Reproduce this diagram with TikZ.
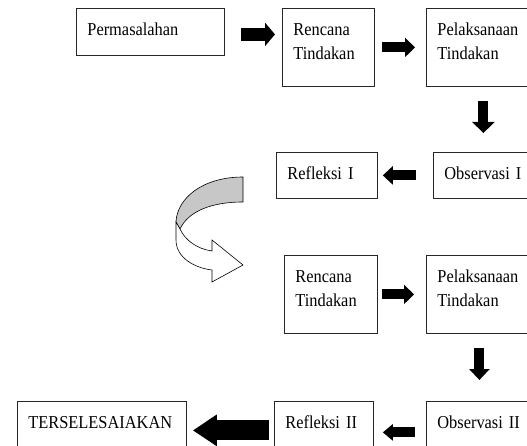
\documentclass[tikz,border=0pt]{standalone}
\usepackage{fontspec}
\setmainfont{Liberation Serif}[FakeStretch=0.9]
\usetikzlibrary{arrows.meta}

\tikzset{
  box/.style 2 args={draw=black!85, line width=.8pt, anchor=north west,
    align=left, inner xsep=11pt, inner ysep=0pt,
    text width=#1, text height=27pt, text depth=#2,
    font=\fontsize{18.2}{24}\selectfont},
  blk/.style n args={3}{line width=#1, -{Triangle[width=#2, length=#3]}},
}

\begin{document}
\begin{tikzpicture}[x=1pt, y=-1pt]

  % Frame
  \clip (0,0) rectangle (527,446);

  %% First cycle

  % Top row
  \node[box={126pt}{20pt}] (perm) at (76,8) {Permasalahan};
  \node[box={70pt}{51pt}] (ren1) at (282,8) {Rencana\\Tindakan};
  \node[box={92pt}{51pt}] (pel1) at (426,8) {Pelaksanaan\\Tindakan};

  % Second row
  \node[box={80pt}{19pt}] (obs1) at (433,152) {Observasi I};
  \node[box={79pt}{19pt}] (ref1) at (276,152) {Refleksi I};

  % Arrows of the first cycle
  \draw[blk={13pt}{23pt}{10pt}, shorten <=16pt, shorten >=7pt]
    ([yshift=-2.5pt]perm.east) -- ([yshift=-2.5pt]perm.east -| ren1.west);
  \draw[blk={10pt}{19pt}{10pt}, shorten <=7pt, shorten >=11pt]
    (ren1.east) -- (ren1.east -| pel1.west);
  \draw[blk={10pt}{22pt}{11pt}, shorten <=14pt, shorten >=19pt]
    (pel1.south) -- (pel1.south |- obs1.north);
  \draw[blk={10pt}{18pt}{10pt}, shorten <=17pt, shorten >=5pt]
    (obs1.west) -- (obs1.west -| ref1.east);

  %% Turn to the second cycle

  % Back of the ribbon
  \draw[line width=.6pt, fill=black!22]
    (243,177) .. controls (203,177) and (177,198) .. (176,222)
    -- (180,229) .. controls (188,212) and (210,202) .. (243,202) -- cycle;

  % Front of the ribbon with its head
  \draw[line width=.6pt, fill=white]
    (176,222) -- (176,240) .. controls (176,258) and (195,268) .. (212,270)
    -- (212,282) -- (243,265) -- (212,240) -- (212,251)
    .. controls (197,249) and (185,240) .. (180,229) -- cycle;

  %% Second cycle

  % Third row
  \node[box={71pt}{51pt}] (ren2) at (284,255) {Rencana\\Tindakan};
  \node[box={92pt}{51pt}] (pel2) at (426,255) {Pelaksanaan\\Tindakan};

  % Bottom row
  \node[box={88pt}{20pt}] (obs2) at (426,401) {Observasi II};
  \node[box={77pt}{20pt}] (ref2) at (274,401) {Refleksi II};
  \node[box={147pt}{20pt}] (tersel) at (17,401) {TERSELESAIAKAN};

  % Arrows of the second cycle
  \draw[blk={10pt}{19pt}{10pt}, shorten <=4pt, shorten >=12pt]
    (ren2.east) -- (ren2.east -| pel2.west);
  \draw[blk={10pt}{20pt}{11pt}, shorten <=14pt, shorten >=21pt]
    ([xshift=-4pt]pel2.south) -- ([xshift=-4pt]pel2.south |- obs2.north);
  \draw[blk={10pt}{16pt}{10pt}, shorten <=11pt, shorten >=9pt]
    ([yshift=-7.5pt]obs2.west) -- ([yshift=-7.5pt]obs2.west -| ref2.east);
  \draw[blk={20pt}{30pt}{24pt}, shorten <=5pt, shorten >=6pt]
    ([yshift=-5.5pt]ref2.west) -- ([yshift=-5.5pt]ref2.west -| tersel.east);

\end{tikzpicture}
\end{document}
